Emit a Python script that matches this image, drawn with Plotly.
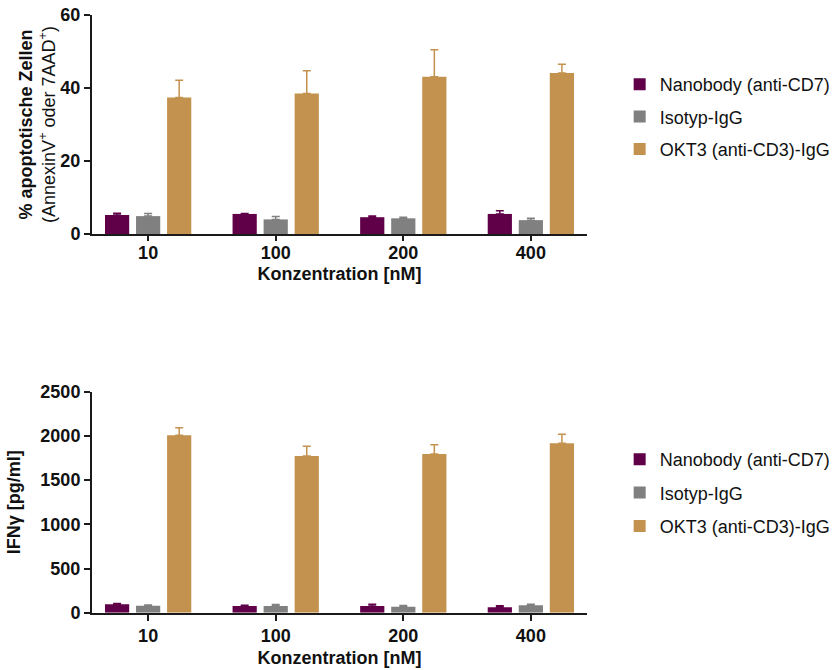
import plotly.graph_objects as go

categories = ["10", "100", "200", "400"]
series_names = ["Nanobody (anti-CD7)", "Isotyp-IgG", "OKT3 (anti-CD3)-IgG"]
colors = ["#5F0049", "#808080", "#C4924F"]

# Top panel: % apoptotic cells (mean, upper error)
apo_mean = [
    [5.2, 5.5, 4.6, 5.5],
    [4.9, 4.0, 4.3, 3.8],
    [37.4, 38.5, 43.1, 44.1],
]
apo_err = [
    [0.5, 0.1, 0.3, 0.9],
    [0.7, 0.8, 0.3, 0.5],
    [4.7, 6.2, 7.4, 2.4],
]

# Bottom panel: IFNgamma pg/ml
ifn_mean = [
    [95, 76, 76, 61],
    [80, 76, 68, 83],
    [2007, 1773, 1795, 1916],
]
ifn_err = [
    [10, 9, 20, 18],
    [6, 18, 14, 12],
    [86, 109, 105, 102],
]

FONT = "Liberation Sans, Arial, sans-serif"
fig = go.Figure()

for i, name in enumerate(series_names):
    fig.add_trace(go.Bar(
        x=categories, y=apo_mean[i], name=name, marker_color=colors[i],
        marker_line_width=0,
        error_y=dict(type="data", array=apo_err[i], arrayminus=[0]*4, symmetric=False,
                     color=colors[i], thickness=1.5, width=4),
        xaxis="x", yaxis="y", legend="legend", legendgroup="a%d" % i,
    ))
for i, name in enumerate(series_names):
    fig.add_trace(go.Bar(
        x=categories, y=ifn_mean[i], name=name, marker_color=colors[i],
        marker_line_width=0,
        error_y=dict(type="data", array=ifn_err[i], arrayminus=[0]*4, symmetric=False,
                     color=colors[i], thickness=1.5, width=4),
        xaxis="x2", yaxis="y2", legend="legend2", legendgroup="b%d" % i,
    ))

axis_common = dict(showline=True, linecolor="#1a1a1a", linewidth=2, ticks="outside",
                   tickwidth=1.5, tickcolor="#1a1a1a", showgrid=False, zeroline=False,
                   automargin=False,
                   tickfont=dict(family=FONT, size=18, color="#111", weight="bold"))
xdom = [92/834, 587/834]
TS = 18

fig.update_layout(
    template="none",
    width=834, height=670, plot_bgcolor="white", paper_bgcolor="white",
    margin=dict(l=0, r=0, t=0, b=0, autoexpand=False),
    barmode="group", bargap=0.27, bargroupgap=0.22,
    font=dict(family=FONT, color="#111"),
    xaxis=dict(domain=xdom, anchor="y", type="category", range=[-0.44, 3.44], ticklen=5,
               ticklabelstandoff=-4,
               title=dict(text="Konzentration [nM]", standoff=6,
                          font=dict(family=FONT, size=TS, weight="bold")), **axis_common),
    yaxis=dict(domain=[1-234/670, 1-15/670], anchor="x", range=[0, 60], tickvals=[0, 20, 40, 60],
               ticklen=6,
               title=dict(text="<b>% apoptotische Zellen</b><br>(AnnexinV<sup>+</sup> oder 7AAD<sup>+</sup>)",
                          standoff=0, font=dict(family=FONT, size=TS)), **axis_common),
    xaxis2=dict(domain=xdom, anchor="y2", type="category", range=[-0.44, 3.44], ticklen=6,
                title=dict(text="Konzentration [nM]", standoff=6,
                           font=dict(family=FONT, size=TS, weight="bold")), **axis_common),
    yaxis2=dict(domain=[1-612.7/670, 1-391.7/670], anchor="x2", range=[0, 2500],
                tickvals=[0, 500, 1000, 1500, 2000, 2500], ticklen=6,
                title=dict(text="IFNγ [pg/ml]", standoff=15,
                           font=dict(family=FONT, size=TS, weight="bold")), **axis_common),
    legend=dict(x=0.743, y=1-66/670, xanchor="left", yanchor="top", traceorder="grouped",
                tracegroupgap=6, font=dict(family=FONT, size=18, color="#111")),
    legend2=dict(x=0.743, y=1-441/670, xanchor="left", yanchor="top", traceorder="grouped",
                 tracegroupgap=7, font=dict(family=FONT, size=18, color="#111")),
)

fig.write_html("out.html")
